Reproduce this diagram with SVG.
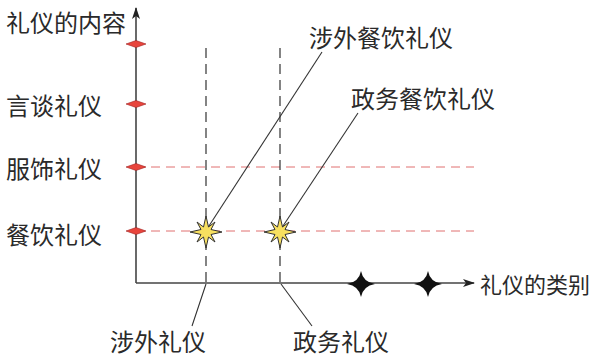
<svg xmlns="http://www.w3.org/2000/svg" width="597" height="358" viewBox="0 0 597 358">
<defs>
<style>
.t{font-family:"Noto Sans CJK SC","Noto Sans CJK JP",sans-serif;font-size:24px;fill:#2a2a2a;dominant-baseline:central}
.ax{stroke:#444;stroke-width:1.6;fill:none}
.vd{stroke:#333;stroke-width:1.2;stroke-dasharray:10 6;fill:none}
.rd{stroke:#e07070;stroke-width:1;stroke-dasharray:9 6;fill:none}
.ld{stroke:#333;stroke-width:1.1;fill:none}
.dm{fill:#e8453c;stroke:#a02020;stroke-width:0.6}
.st{fill:#f8e060;stroke:#333;stroke-width:1}
.bs{fill:#111}
</style>
<marker id="ah" viewBox="0 0 12 8" refX="11" refY="4" markerWidth="12" markerHeight="8" markerUnits="userSpaceOnUse" orient="auto">
<path d="M0,0 L12,4 L0,8 L3,4 Z" fill="#222"/>
</marker>
<polygon id="dmd" points="-10,0 0,-3.5 10,0 0,3.5"/>
<polygon id="star" points="0,-16 2.5,-5 9,-10 5,-2.5 16,0 5,2.5 9,10 2.5,5 0,16 -2.5,5 -9,10 -5,2.5 -16,0 -5,-2.5 -9,-10 -2.5,-5"/>
<path id="bst" d="M0,-13 Q2,-2 14,0 Q2,2 0,13 Q-2,2 -14,0 Q-2,-2 0,-13 Z"/>
</defs>
<g id="connectors">
<line class="rd" x1="136" y1="167" x2="474" y2="167"/>
<line class="rd" x1="136" y1="231" x2="474" y2="231"/>
<line class="vd" x1="206" y1="48" x2="206" y2="283"/>
<line class="vd" x1="280" y1="48" x2="280" y2="283"/>
<line class="ld" x1="207" y1="229" x2="322" y2="52"/>
<line class="ld" x1="281" y1="229" x2="358" y2="113"/>
<line class="ld" x1="206" y1="284" x2="192" y2="326"/>
<line class="ld" x1="281" y1="284" x2="312" y2="326"/>
<line class="ax" x1="136" y1="283" x2="136" y2="8" marker-end="url(#ah)"/>
<line class="ax" x1="136" y1="283" x2="474" y2="283" marker-end="url(#ah)"/>
</g>
<g id="y-axis-label"><text class="t" x="6" y="21">礼仪的内容</text></g>
<g id="tick-top"><use href="#dmd" class="dm" x="136" y="44"/></g>
<g id="node-yantan"><use href="#dmd" class="dm" x="136" y="104"/><text class="t" x="6" y="104">言谈礼仪</text></g>
<g id="node-fushi"><use href="#dmd" class="dm" x="136" y="167"/><text class="t" x="6" y="167">服饰礼仪</text></g>
<g id="node-canyin"><use href="#dmd" class="dm" x="136" y="231"/><text class="t" x="6" y="233">餐饮礼仪</text></g>
<g id="x-axis-label"><text class="t" x="480" y="283" style="font-size:22px">礼仪的类别</text></g>
<g id="cat-x1"><use href="#bst" class="bs" x="361" y="284"/></g>
<g id="cat-x2"><use href="#bst" class="bs" x="428" y="284"/></g>
<g id="node-shewai"><text class="t" x="110" y="340">涉外礼仪</text></g>
<g id="node-zhengwu"><text class="t" x="293" y="340">政务礼仪</text></g>
<g id="star-shewai-canyin"><use href="#star" class="st" x="206" y="232"/></g>
<g id="star-zhengwu-canyin"><use href="#star" class="st" x="280" y="232"/></g>
<g id="label-shewai-canyin"><text class="t" x="309" y="36">涉外餐饮礼仪</text></g>
<g id="label-zhengwu-canyin"><text class="t" x="351" y="97">政务餐饮礼仪</text></g>
</svg>
